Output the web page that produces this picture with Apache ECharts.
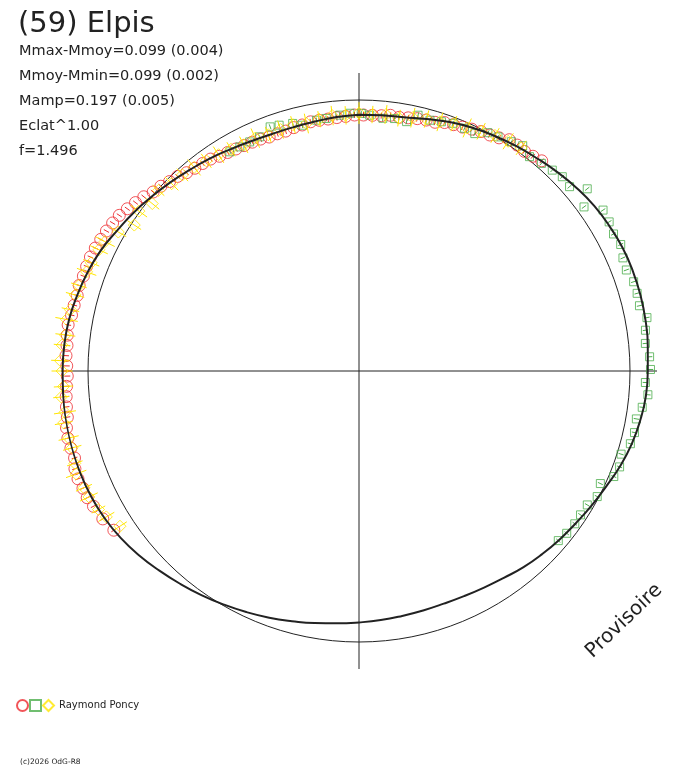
<!DOCTYPE html>
<html lang="fr">
<head>
<meta charset="UTF-8">
<title>(59) Elpis</title>
<script src="https://cdn.jsdelivr.net/npm/echarts@6/dist/echarts.min.js"></script>
<style>html,body{margin:0;padding:0;background:#fff}</style>
</head>
<body>
<div id="main" style="width:688px;height:768px"></div>
<script>
// courbe modele : phase (degres) / flux relatif
let modelAngle = [0,5,10,15,20,25,30,35,40,45,50,55,60,65,70,75,80,85,90,95,100,105,110,115,120,125,130,135,140,145,150,155,160,165,170,175,180,185,190,195,200,205,210,215,220,225,230,235,240,245,250,255,260,265,270,275,280,285,290,295,300,305,310,315,320,325,330,335,340,345,350,355,360];
let modelFlux = [0.946,0.948,0.951,0.963,0.978,0.991,1.002,1.013,1.024,1.037,1.050,1.061,1.068,1.074,1.076,1.076,1.074,1.070,1.066,1.063,1.054,1.042,1.026,1.007,0.992,0.978,0.967,0.956,0.945,0.932,0.923,0.917,0.914,0.915,0.918,0.923,0.928,0.935,0.945,0.956,0.969,0.982,0.996,1.011,1.026,1.042,1.059,1.074,1.085,1.092,1.096,1.098,1.098,1.096,1.094,1.092,1.087,1.077,1.066,1.052,1.033,1.017,1.000,0.985,0.970,0.958,0.946,0.937,0.932,0.932,0.935,0.941,0.946];

// session 1 (cercles rouges)
let redAngle = [237,240,243,245,247,249,251,253,255,257,259,261,263,265,267,269,271,273,275,277,279,281,283,285,287,289,291,293,295,297,299,301,303,305,307,309,311,313,315,317,319,321,323,325,327,329,331,333,335,337,339,341,343,345,347,349,351,353,355,357,359,1,3,5,7,9,11,13,15,17,19,21,23,25,27,29,31,33,35,37,39,41];
let redFlux = [1.079,1.092,1.100,1.107,1.107,1.111,1.109,1.098,1.101,1.103,1.100,1.090,1.088,1.085,1.081,1.077,1.079,1.083,1.082,1.085,1.087,1.081,1.079,1.077,1.080,1.076,1.077,1.077,1.074,1.070,1.066,1.061,1.055,1.044,1.033,1.022,1.007,1.000,0.989,0.982,0.970,0.963,0.959,0.955,0.945,0.941,0.937,0.934,0.932,0.930,0.925,0.926,0.926,0.930,0.932,0.937,0.937,0.937,0.939,0.941,0.945,0.945,0.945,0.946,0.951,0.948,0.952,0.956,0.959,0.960,0.970,0.974,0.978,0.985,0.992,0.996,1.004,1.018,1.018,1.015,1.020,1.028];
let redErr = 0.011;

// session 2 (carres verts)
let greenAngle = [329.5,332,334.5,337,340,342,345,347,350.4,352.6,355.7,358,0.5,2.4,5.4,8,10.8,13,15.8,18.3,20.8,23.5,26,28.4,30.7,33.6,36,38.5,41.3,43.9,46.3,48.8,51.4,53.9,56.6,59.2,61.7,64.2,66.8,69.3,72,74.4,76.9,79.5,81.9,84.5,87.2,89.7,92.3,94.7,97.3,99.8,102.6,105,107.6,110.2,112.5,115,117.8,120.4,123,125.3,128,130.4];
let greenFlux = [0.939,0.937,0.937,0.939,0.959,0.954,0.946,0.931,0.939,0.940,0.947,0.952,0.951,0.945,0.937,0.941,0.937,0.969,0.962,0.969,0.978,0.977,0.975,1.000,1.005,1.016,1.028,1.011,1.020,1.029,1.038,1.033,1.078,1.028,1.079,1.075,1.067,1.073,1.060,1.055,1.066,1.066,1.063,1.081,1.068,1.062,1.074,1.076,1.058,1.070,1.054,1.039,1.042,1.037,1.015,1.025,1.018,0.983,0.994,0.977,0.975,0.976,0.973,0.966];
let greenErr = 0.010;

// session 3 (losanges jaunes)
let yellowAngle = [237,240,242,245,247,250,252,255,257,260,262,265,267,270,272,275,277,280,282,285,287,290,292,295,297,300,303,306,309,312,315,318,321,324,327,330,333,336,339,342,345,348,351,354,357,0,3,6,9,12,15,18,21,24,27,30,33,36];
let yellowFlux = [1.052,1.077,1.089,1.100,1.103,1.111,1.103,1.096,1.100,1.107,1.096,1.103,1.092,1.096,1.103,1.100,1.092,1.096,1.089,1.085,1.081,1.070,1.066,1.059,1.052,1.026,0.989,1.004,0.982,0.996,0.978,0.974,0.967,0.959,0.952,0.945,0.937,0.941,0.934,0.937,0.941,0.934,0.941,0.948,0.945,0.952,0.948,0.952,0.945,0.956,0.963,0.967,0.978,0.982,0.993,1.004,1.011,1.018];
let yellowErr = [0.030,0.034,0.028,0.036,0.032,0.040,0.030,0.035,0.038,0.033,0.041,0.030,0.036,0.039,0.034,0.031,0.037,0.042,0.033,0.035,0.030,0.038,0.032,0.036,0.040,0.034,0.030,0.037,0.033,0.029,0.035,0.031,0.038,0.032,0.036,0.030,0.034,0.039,0.031,0.035,0.033,0.037,0.030,0.036,0.034,0.040,0.032,0.035,0.031,0.037,0.033,0.036,0.030,0.038,0.034,0.031,0.035,0.032];

let infoLines = ['Mmax-Mmoy=0.099 (0.004)', 'Mmoy-Mmin=0.099 (0.002)', 'Mamp=0.197 (0.005)', 'Eclat^1.00', 'f=1.496'];

const RED = '#ee2a2f', GREEN = '#4cae4c', YELLOW = '#ffe600', INK = '#222';
const FONT = '"DejaVu Sans", "Liberation Sans", Arial, sans-serif';

function pairs(flux, angle, err) {
    return flux.map(function (r, i) {
        let e = Array.isArray(err) ? err[i] : err;
        return err === undefined ? [r, angle[i]] : [r, angle[i], e];
    });
}

// barres d'erreur radiales
function errorBars(color) {
    return function (params, api) {
        let r = api.value(0), a = api.value(1), e = api.value(2);
        let p1 = api.coord([r - e, a]);
        let p2 = api.coord([r + e, a]);
        return {
            type: 'line',
            shape: {x1: p1[0], y1: p1[1], x2: p2[0], y2: p2[1]},
            style: {stroke: color, lineWidth: 1}
        };
    };
}

let graphics = [{
    type: 'text', x: 18, y: 24,
    style: {text: '(59) Elpis', fontSize: 29, fontFamily: FONT, fill: INK, align: 'left', verticalAlign: 'middle'}
}];
infoLines.forEach(function (t, i) {
    graphics.push({
        type: 'text', x: 19, y: 51 + i * 25,
        style: {text: t, fontSize: 14.5, fontFamily: FONT, fill: INK, align: 'left', verticalAlign: 'middle'}
    });
});
graphics.push({
    type: 'text', x: 624, y: 621, rotation: 43.7 * Math.PI / 180,
    style: {text: 'Provisoire', fontSize: 20, fontFamily: FONT, fill: INK, align: 'center', verticalAlign: 'middle'}
});
graphics.push({
    type: 'text', x: 20, y: 762,
    style: {text: '(c)2026 OdG-R8', fontSize: 7.5, fontFamily: FONT, fill: INK, align: 'left', verticalAlign: 'middle'}
});

let hidden = {show: false};
let myChart = echarts.init(document.getElementById('main'));
let option = {
    backgroundColor: '#fff',
    animation: false,
    polar: [
        {center: [359, 371], radius: 298},
        {center: [359, 371], radius: 271}
    ],
    angleAxis: [
        {   // croix des axes
            polarIndex: 0, type: 'value', min: 0, max: 360, interval: 90, startAngle: 90,
            axisLine: hidden, axisTick: hidden, axisLabel: hidden,
            splitLine: {show: true, lineStyle: {color: INK, width: 1}}
        },
        {   // cercle de reference (flux moyen)
            polarIndex: 1, type: 'value', min: 0, max: 360, startAngle: 90,
            axisLine: {show: true, lineStyle: {color: INK, width: 1}},
            axisTick: hidden, axisLabel: hidden, splitLine: hidden
        }
    ],
    radiusAxis: [
        {polarIndex: 0, type: 'value', min: 0, max: 1.1, axisLine: hidden, axisTick: hidden, axisLabel: hidden, splitLine: hidden},
        {polarIndex: 1, type: 'value', min: 0, max: 1, axisLine: hidden, axisTick: hidden, axisLabel: hidden, splitLine: hidden}
    ],
    legend: {
        left: 11, top: 694, itemWidth: 11, itemHeight: 11, itemGap: 0,
        selectedMode: false,
        data: ['Raymond Poncy 1', 'Raymond Poncy 2', 'Raymond Poncy'],
        formatter: function (name) { return name === 'Raymond Poncy' ? 'Raymond Poncy' : ''; },
        textStyle: {fontFamily: FONT, fontSize: 10, color: INK}
    },
    graphic: graphics,
    series: [
        {
            name: 'Raymond Poncy 1', type: 'scatter', coordinateSystem: 'polar', polarIndex: 0,
            symbol: 'circle', symbolSize: 12, clip: false, z: 2,
            itemStyle: {color: 'rgba(0,0,0,0)', borderColor: RED, borderWidth: 1},
            data: pairs(redFlux, redAngle)
        },
        {
            type: 'custom', coordinateSystem: 'polar', polarIndex: 0, z: 2,
            renderItem: errorBars(RED), data: pairs(redFlux, redAngle, redErr)
        },
        {
            name: 'Raymond Poncy 2', type: 'scatter', coordinateSystem: 'polar', polarIndex: 0,
            symbol: 'rect', symbolSize: 8, clip: false, z: 3,
            itemStyle: {color: 'rgba(0,0,0,0)', borderColor: GREEN, borderWidth: 1},
            data: pairs(greenFlux, greenAngle)
        },
        {
            type: 'custom', coordinateSystem: 'polar', polarIndex: 0, z: 3,
            renderItem: errorBars(GREEN), data: pairs(greenFlux, greenAngle, greenErr)
        },
        {
            name: 'Raymond Poncy', type: 'scatter', coordinateSystem: 'polar', polarIndex: 0,
            symbol: 'diamond', symbolSize: 12, clip: false, z: 4,
            itemStyle: {color: 'rgba(0,0,0,0)', borderColor: YELLOW, borderWidth: 1},
            data: pairs(yellowFlux, yellowAngle)
        },
        {
            type: 'custom', coordinateSystem: 'polar', polarIndex: 0, z: 4,
            renderItem: errorBars(YELLOW), data: pairs(yellowFlux, yellowAngle, yellowErr)
        },
        {
            type: 'line', coordinateSystem: 'polar', polarIndex: 0, smooth: true,
            symbol: 'none', clip: false, z: 5,
            lineStyle: {color: INK, width: 2},
            data: pairs(modelFlux, modelAngle)
        }
    ]
};
myChart.setOption(option);
</script>
</body>
</html>
